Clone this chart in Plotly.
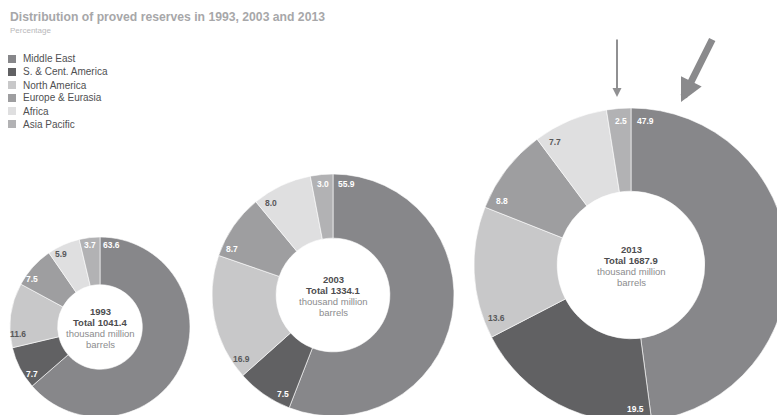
import math
import plotly.graph_objects as go

# ---- data -------------------------------------------------------------
regions = ["Middle East", "S. & Cent. America", "North America",
           "Europe & Eurasia", "Africa", "Asia Pacific"]
years = ["1993", "2003", "2013"]
share_1993 = [63.6, 7.7, 11.6, 7.5, 5.9, 3.7]
share_2003 = [55.9, 7.5, 16.9, 8.7, 8.0, 3.0]
share_2013 = [47.9, 19.5, 13.6, 8.8, 7.7, 2.5]
totals = [1041.4, 1334.1, 1687.9]
shares = [share_1993, share_2003, share_2013]

# ---- style ------------------------------------------------------------
colors = ["#87878a", "#616163", "#c8c8c9", "#9e9ea0", "#dfdfe0", "#b2b2b4"]
label_colors = ["white", "white", "#58585a", "white", "#58585a", "white"]
FONT = "Liberation Sans, Arial, sans-serif"

# canvas is a little larger than the visible page so the big rings bleed off
W, H = 800, 430
# ring centres and outer radii in pixels
rings = [(100, 327, 90), (333, 295, 121), (631, 265, 157)]
HOLE = 0.47


def fx(x):
    return x / W


def fy(y):
    return 1 - y / H


fig = go.Figure()
annotations = []
shapes = []

for (cx, cy, R), year, vals, tot in zip(rings, years, shares, totals):
    fig.add_trace(go.Pie(
        labels=regions, values=vals, hole=HOLE, sort=False,
        direction="clockwise", rotation=0, textinfo="none",
        marker=dict(colors=colors, line=dict(color="white", width=0.6)),
        domain=dict(x=[fx(cx - R), fx(cx + R)], y=[fy(cy + R), fy(cy - R)]),
        showlegend=False, hoverinfo="label+value",
    ))

    # value labels sit just clockwise of each slice's starting edge
    r_lab = 0.92 * R
    gap = 0.04 * R
    total_share = sum(vals)
    cum = 0.0
    for v, lc in zip(vals, label_colors):
        txt = f"{v:.1f}"
        half_w = ((len(txt) - 1) * 4.7 + 2.4) / 2
        theta = cum / total_share * 2 * math.pi + (half_w + gap) / r_lab
        lx = cx + r_lab * math.sin(theta)
        ly = cy - r_lab * math.cos(theta)
        annotations.append(dict(
            x=fx(lx), y=fy(ly), xref="paper", yref="paper", text=f"<b>{txt}</b>",
            showarrow=False, xanchor="center", yanchor="middle",
            font=dict(family=FONT, size=8.5, color=lc)))
        cum += v

    # centre text
    lines = [(f"<b>{year}</b>", "#4d4d4f"), (f"<b>Total {tot:.1f}</b>", "#4d4d4f"),
             ("thousand million", "#8c8c8e"), ("barrels", "#8c8c8e")]
    for i, (t, c) in enumerate(lines):
        annotations.append(dict(
            x=fx(cx), y=fy(cy + 1 + (i - 1.5) * 11), xref="paper", yref="paper",
            text=t, showarrow=False, xanchor="center", yanchor="middle",
            font=dict(family=FONT, size=9.5, color=c)))

# title and subtitle
annotations.append(dict(
    x=fx(8), y=fy(17), xref="paper", yref="paper",
    text="<b>Distribution of proved reserves in 1993, 2003 and 2013</b>",
    showarrow=False, xanchor="left", yanchor="middle",
    font=dict(family=FONT, size=12.2, color="#a7a7a9")))
annotations.append(dict(
    x=fx(8), y=fy(31), xref="paper", yref="paper", text="Percentage",
    showarrow=False, xanchor="left", yanchor="middle",
    font=dict(family=FONT, size=8, color="#b8b8ba")))

# key
for i, (name, col) in enumerate(zip(regions, colors)):
    yc = 59 + i * 13
    shapes.append(dict(type="rect", xref="paper", yref="paper",
                       x0=fx(8), x1=fx(16), y0=fy(yc + 4), y1=fy(yc - 4),
                       fillcolor=col, line=dict(width=0)))
    annotations.append(dict(
        x=fx(21), y=fy(yc), xref="paper", yref="paper", text=name,
        showarrow=False, xanchor="left", yanchor="middle",
        font=dict(family=FONT, size=10, color="#505052")))

# pointer arrows above the 2013 ring
annotations.append(dict(
    x=fx(617), y=fy(97), xref="paper", yref="paper", text="",
    showarrow=True, ax=0, ay=-59, arrowhead=2, arrowwidth=2, arrowsize=0.9,
    arrowcolor="#909092", standoff=0))
annotations.append(dict(
    x=fx(681), y=fy(102), xref="paper", yref="paper", text="",
    showarrow=True, ax=32, ay=-64, arrowhead=2, arrowwidth=7, arrowsize=0.66,
    arrowcolor="#8a8a8c", standoff=0))

fig.update_layout(
    width=W, height=H, margin=dict(l=0, r=0, t=0, b=0, pad=0),
    paper_bgcolor="white", plot_bgcolor="white",
    annotations=annotations, shapes=shapes, showlegend=False,
    font=dict(family=FONT),
)

fig.write_html(
    "out.html",
    post_script=("document.documentElement.style.overflow='hidden';"
                 "document.body.style.overflow='hidden';"
                 "document.body.style.margin='0';"),
)
